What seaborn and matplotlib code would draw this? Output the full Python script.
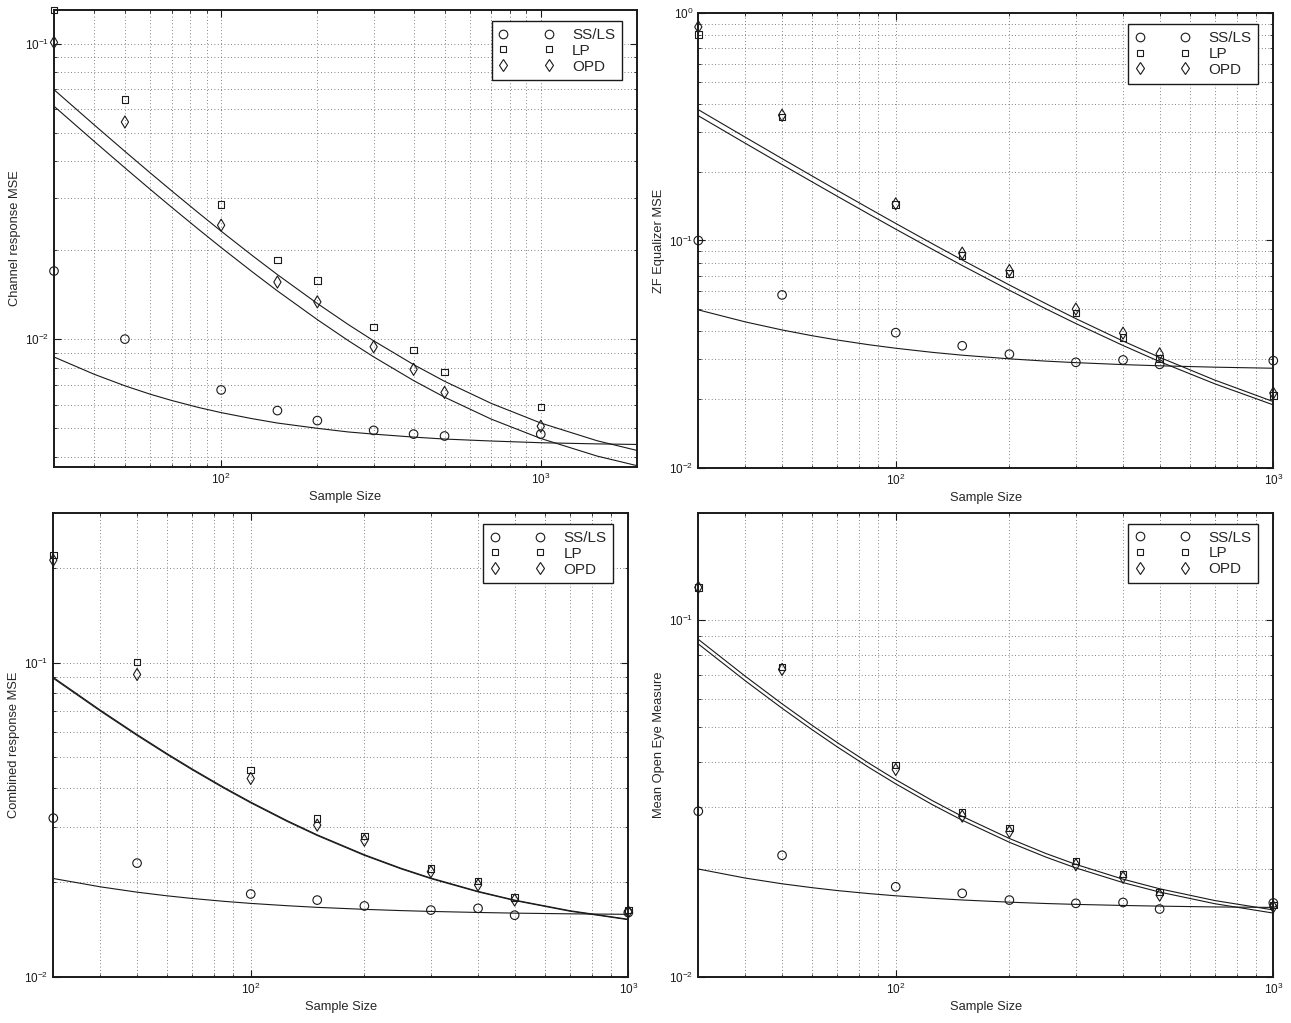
import numpy as np
import pandas as pd
import seaborn as sns
import matplotlib
matplotlib.use("Agg")
import matplotlib.pyplot as plt
from matplotlib.lines import Line2D
from matplotlib.ticker import LogLocator, NullFormatter

# ---- data ----
sample_size = [30, 50, 100, 150, 200, 300, 400, 500, 1000]
fit_x = [30, 40, 50, 60, 70, 85, 100, 125, 150, 200, 250, 300, 400, 500, 700, 1000]
fit_x_long = fit_x + [1500, 2000]

# channel response MSE
chan_ss = [0.0170, 0.0100, 0.00673, 0.00573, 0.0053, 0.00491, 0.00477, 0.0047, 0.00477]
chan_lp = [0.13, 0.0648, 0.0286, 0.0185, 0.0158, 0.0110, 0.00918, 0.00774, 0.00589]
chan_opd = [0.101, 0.0543, 0.0243, 0.0156, 0.01337, 0.00942, 0.0079, 0.0066, 0.00507]
chan_fit_ss = [0.0087, 0.00761, 0.00695, 0.00651, 0.0062, 0.00587, 0.00564, 0.00538, 0.0052,
               0.00499, 0.00485, 0.00477, 0.00466, 0.00459, 0.00452, 0.00446, 0.00442, 0.0044]
chan_fit_lp = [0.06987, 0.0532, 0.0432, 0.03653, 0.03177, 0.02673, 0.0232, 0.0192, 0.01653,
               0.0132, 0.0112, 0.00987, 0.0082, 0.0072, 0.00606, 0.0052, 0.00453, 0.0042]
chan_fit_opd = [0.06142, 0.04678, 0.03799, 0.03213, 0.02795, 0.02352, 0.02042, 0.01691, 0.01456,
                0.01164, 0.00988, 0.00871, 0.00724, 0.00636, 0.00536, 0.00461, 0.00402, 0.00373]

# ZF equalizer MSE
zf_ss = [0.100, 0.0576, 0.0393, 0.0344, 0.0316, 0.0291, 0.0298, 0.0285, 0.0296]
zf_lp = [0.806, 0.350, 0.144, 0.0860, 0.0714, 0.0479, 0.0374, 0.0303, 0.0208]
zf_opd = [0.871, 0.356, 0.145, 0.088, 0.0738, 0.0499, 0.0391, 0.0317, 0.0213]
zf_fit_ss = [0.0495, 0.04381, 0.04039, 0.03811, 0.03648, 0.03476, 0.03356, 0.03219,
             0.03128, 0.03014, 0.02945, 0.029, 0.02843, 0.02809, 0.0277, 0.0274]
zf_fit_lp = [0.3765, 0.2845, 0.2293, 0.1925, 0.1662, 0.1384, 0.1189, 0.0968,
             0.0821, 0.0637, 0.0527, 0.0453, 0.0361, 0.0306, 0.0243, 0.01954]
zf_fit_opd = [0.354, 0.2676, 0.2158, 0.1813, 0.1566, 0.1305, 0.1122, 0.0915,
              0.0776, 0.0604, 0.05, 0.0431, 0.0345, 0.0293, 0.0234, 0.0189]

# combined response MSE
comb_ss = [0.032, 0.0230, 0.01834, 0.01754, 0.0168, 0.0163, 0.01651, 0.0157, 0.0160]
comb_lp = [0.2208, 0.1007, 0.0455, 0.0319, 0.02805, 0.0221, 0.0202, 0.0179, 0.0163]
comb_opd = [0.2123, 0.0918, 0.0428, 0.0304, 0.0272, 0.0216, 0.0196, 0.01755, 0.0161]
comb_fit_ss = [0.02055, 0.01933, 0.01859, 0.0181, 0.01775, 0.01738, 0.01712, 0.01683,
               0.01663, 0.01639, 0.01624, 0.01614, 0.01602, 0.01594, 0.01586, 0.0158]
comb_fit_lp = [0.08983, 0.07061, 0.05907, 0.05138, 0.04589, 0.04007, 0.036, 0.03139,
               0.02831, 0.02447, 0.02216, 0.02062, 0.0187, 0.01754, 0.01623, 0.01524]
comb_fit_opd = [0.08923, 0.07015, 0.0587, 0.05107, 0.04561, 0.03984, 0.0358, 0.03122,
                0.02817, 0.02435, 0.02206, 0.02053, 0.01863, 0.01748, 0.01617, 0.01519]

# mean open eye measure
eye_ss = [0.0291, 0.0219, 0.01787, 0.01713, 0.0164, 0.01606, 0.01615, 0.01548, 0.0161]
eye_lp = [0.1235, 0.0739, 0.0392, 0.0289, 0.0261, 0.0211, 0.0194, 0.0173, 0.0159]
eye_opd = [0.1235, 0.0727, 0.0381, 0.0282, 0.0255, 0.0206, 0.0190, 0.01693, 0.0157]
eye_fit_ss = [0.02004, 0.0189, 0.01822, 0.01777, 0.01744, 0.0171, 0.01686, 0.01659,
              0.01641, 0.01618, 0.01604, 0.01595, 0.01584, 0.01577, 0.01569, 0.01564]
eye_fit_lp = [0.0883, 0.06951, 0.05823, 0.05071, 0.04534, 0.03966, 0.03568, 0.03117,
              0.02816, 0.02441, 0.02215, 0.02065, 0.01877, 0.01764, 0.01635, 0.01539]
eye_fit_opd = [0.0857, 0.0675, 0.05658, 0.0493, 0.0441, 0.03859, 0.03474, 0.03037,
               0.02746, 0.02382, 0.02164, 0.02018, 0.01836, 0.01727, 0.01602, 0.01508]

legend_labels = ["SS/LS", "LP", "OPD"]

# ---- style ----
sns.set_theme(style="ticks")
plt.rcParams['font.family'] = ['Liberation Sans', 'DejaVu Sans']
plt.rcParams['mathtext.default'] = 'regular'

W, H = 1291, 1023
fig = plt.figure(figsize=(W / 100, H / 100), dpi=100)

# axes boxes in pixels: left, top, right, bottom
boxes = [(54, 10, 637, 466.7), (698.3, 13.3, 1273.3, 467.7),
         (53.3, 513, 628.3, 976.7), (698.3, 512.7, 1273.3, 976.7)]

panels = [
    dict(ss=chan_ss, lp=chan_lp, opd=chan_opd, fx=fit_x_long, fss=chan_fit_ss, flp=chan_fit_lp, fopd=chan_fit_opd,
         ylabel="Channel response MSE", xlim=(30, 2000), ylim=(0.0037, 0.13)),
    dict(ss=zf_ss, lp=zf_lp, opd=zf_opd, fx=fit_x, fss=zf_fit_ss, flp=zf_fit_lp, fopd=zf_fit_opd,
         ylabel="ZF Equalizer MSE", xlim=(30, 1000), ylim=(0.01, 1)),
    dict(ss=comb_ss, lp=comb_lp, opd=comb_opd, fx=fit_x, fss=comb_fit_ss, flp=comb_fit_lp, fopd=comb_fit_opd,
         ylabel="Combined response MSE", xlim=(30, 1000), ylim=(0.01, 0.3)),
    dict(ss=eye_ss, lp=eye_lp, opd=eye_opd, fx=fit_x, fss=eye_fit_ss, flp=eye_fit_lp, fopd=eye_fit_opd,
         ylabel="Mean Open Eye Measure", xlim=(30, 1000), ylim=(0.01, 0.2)),
]

marker_kw = dict(color='k', facecolor='none', edgecolor='k', linewidth=0.8, clip_on=False, zorder=4)

for (l, t, r, b), p in zip(boxes, panels):
    ax = fig.add_axes([l / W, 1 - b / H, (r - l) / W, (b - t) / H])
    ax.set_xscale('log')
    ax.set_yscale('log')

    for key in ['fss', 'flp', 'fopd']:
        sns.lineplot(x=p['fx'], y=p[key], color='k', linewidth=0.8, ax=ax, estimator=None, sort=False, zorder=3)

    sns.scatterplot(x=sample_size, y=p['ss'], marker='o', s=38, ax=ax, **marker_kw)
    sns.scatterplot(x=sample_size, y=p['lp'], marker='s', s=22, ax=ax, **marker_kw)
    sns.scatterplot(x=sample_size, y=p['opd'], marker='d', s=38, ax=ax, **marker_kw)

    ax.set_xlim(*p['xlim'])
    ax.set_ylim(*p['ylim'])
    ax.xaxis.set_minor_locator(LogLocator(base=10, subs=np.arange(2, 10), numticks=20))
    ax.yaxis.set_minor_locator(LogLocator(base=10, subs=np.arange(2, 10), numticks=20))
    ax.xaxis.set_minor_formatter(NullFormatter())
    ax.yaxis.set_minor_formatter(NullFormatter())
    ax.grid(True, which='both', linestyle=(0, (1, 3)), color='0.35', linewidth=0.6)
    ax.set_axisbelow(True)
    ax.tick_params(which='both', direction='in', top=True, right=True, colors='k', labelsize=8.5, pad=3.5)
    ax.tick_params(which='major', length=5, width=0.8)
    ax.tick_params(which='minor', length=2.5, width=0.6)
    for s in ax.spines.values():
        s.set_linewidth(1.4)
        s.set_color('k')
    ax.set_xlabel("Sample Size", fontsize=9.3, labelpad=3)
    ax.set_ylabel(p['ylabel'], fontsize=9.3, labelpad=3)

    handles = [Line2D([], [], linestyle='none', marker=m, markersize=ms, markerfacecolor='none',
                      markeredgecolor='k', markeredgewidth=0.8)
               for m, ms in [('o', 6.2), ('s', 4.8), ('d', 6.2)]]
    aw, ah = r - l, b - t
    leg = ax.legend(handles, legend_labels, loc='upper right', bbox_to_anchor=(1 - 15 / aw, 1 - 11 / ah),
                    borderaxespad=0, numpoints=2, handlelength=3.6, handletextpad=1.2,
                    labelspacing=0.12, borderpad=0.45, fontsize=11, fancybox=False, framealpha=1)
    leg.get_frame().set_edgecolor('k')
    leg.get_frame().set_linewidth(1.0)

fig.savefig("out.png", dpi=100)
